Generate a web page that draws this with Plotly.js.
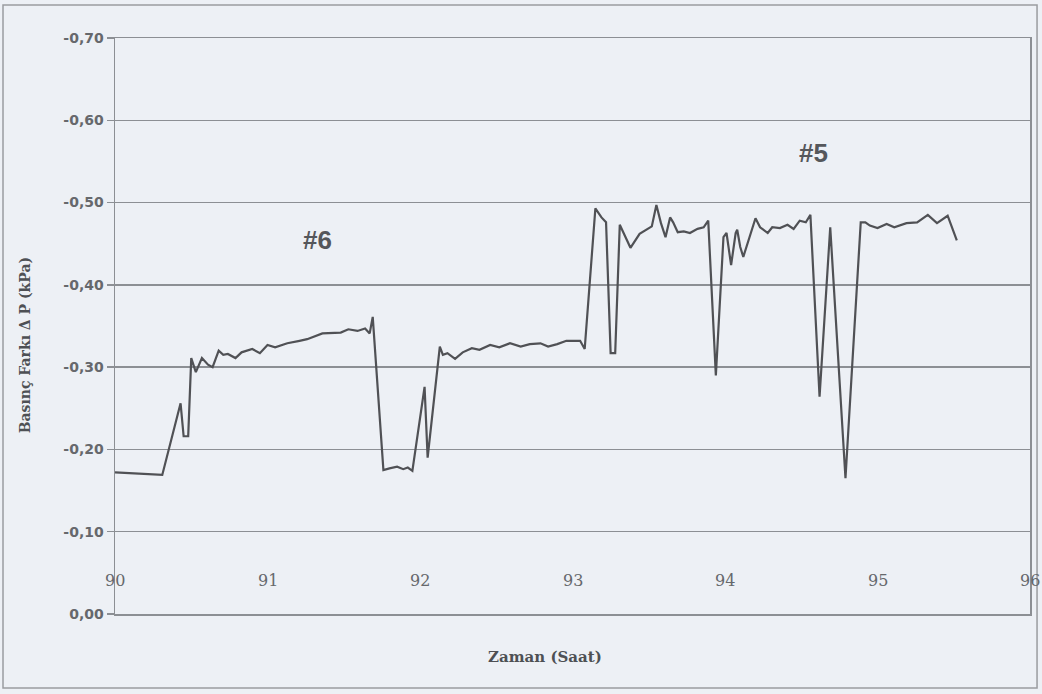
<!DOCTYPE html>
<html>
<head>
<meta charset="utf-8">
<script src="https://cdn.plot.ly/plotly-3.0.1.min.js"></script>
<style>
  html, body { margin: 0; padding: 0; background: #edf0f5; }
  #chart { width: 1042px; height: 694px; }
</style>
</head>
<body>
<div id="chart"></div>
<script>
// Time (hours) and pressure difference ΔP (kPa) readings
const hours = [
  90.00, 90.31, 90.43, 90.45, 90.48, 90.50, 90.53, 90.57, 90.61, 90.64,
  90.68, 90.71, 90.74, 90.79, 90.83, 90.90, 90.95, 91.00, 91.05, 91.13,
  91.21, 91.26, 91.36, 91.48, 91.53, 91.59, 91.64, 91.67, 91.69, 91.76,
  91.80, 91.85, 91.89, 91.92, 91.95, 92.03, 92.05, 92.13, 92.15, 92.18,
  92.23, 92.28, 92.34, 92.39, 92.46, 92.52, 92.59, 92.66, 92.72, 92.79,
  92.84, 92.90, 92.96, 93.05, 93.08, 93.15, 93.19, 93.22, 93.25, 93.28,
  93.31, 93.38, 93.44, 93.48, 93.52, 93.55, 93.58, 93.61, 93.64, 93.66,
  93.69, 93.73, 93.77, 93.82, 93.86, 93.89, 93.94, 93.99, 94.01, 94.04,
  94.07, 94.08, 94.10, 94.12, 94.15, 94.18, 94.20, 94.23, 94.28, 94.31,
  94.36, 94.41, 94.45, 94.49, 94.53, 94.56, 94.62, 94.69, 94.79, 94.89,
  94.92, 94.95, 95.00, 95.06, 95.11, 95.19, 95.26, 95.33, 95.39, 95.46,
  95.52
];
const deltaP = [
  -0.172, -0.169, -0.256, -0.216, -0.216, -0.311, -0.294, -0.311, -0.303, -0.300,
  -0.320, -0.315, -0.316, -0.311, -0.318, -0.322, -0.317, -0.327, -0.324, -0.329,
  -0.332, -0.334, -0.341, -0.342, -0.346, -0.344, -0.347, -0.341, -0.361, -0.175,
  -0.177, -0.179, -0.176, -0.178, -0.174, -0.276, -0.190, -0.325, -0.315, -0.317,
  -0.310, -0.318, -0.323, -0.321, -0.327, -0.324, -0.329, -0.325, -0.328, -0.329,
  -0.325, -0.328, -0.332, -0.332, -0.322, -0.493, -0.482, -0.476, -0.317, -0.317,
  -0.473, -0.445, -0.462, -0.466, -0.471, -0.497, -0.475, -0.458, -0.482, -0.476,
  -0.464, -0.465, -0.463, -0.468, -0.470, -0.478, -0.290, -0.458, -0.463, -0.424,
  -0.463, -0.467, -0.446, -0.434, -0.451, -0.470, -0.481, -0.470, -0.463, -0.470,
  -0.469, -0.473, -0.468, -0.478, -0.476, -0.485, -0.264, -0.470, -0.165, -0.476,
  -0.476, -0.472, -0.469, -0.474, -0.470, -0.475, -0.476, -0.485, -0.475, -0.484,
  -0.454
];

// Axis ticks
const xTickVals = [90, 91, 92, 93, 94, 95, 96];
const xTickText = ['90', '91', '92', '93', '94', '95', '96'];
const yTickVals = [-0.70, -0.60, -0.50, -0.40, -0.30, -0.20, -0.10, 0.00];
const yTickText = ['-0,70', '-0,60', '-0,50', '-0,40', '-0,30', '-0,20', '-0,10', '0,00'];

// Period labels
const seriesLabels = ['#6', '#5'];
const labelHours = [91.33, 94.58];
const labelValues = [-0.454, -0.560];

const gridColor = '#8c8f94';
const textGray = '#66686c';
// the hour labels sit inside the frame, just above the 0,00 line
const hourLabelLevel = -0.041;

const trace = {
  x: hours,
  y: deltaP,
  type: 'scatter',
  mode: 'lines',
  line: { color: '#505155', width: 2.2 },
  hoverinfo: 'x+y'
};

const annotations = seriesLabels.map((t, i) => ({
  x: labelHours[i], y: labelValues[i], xref: 'x', yref: 'y',
  text: t, showarrow: false,
  font: { family: 'Liberation Sans, Arial, sans-serif', size: 26, color: '#55575b', weight: 'bold' }
}));

xTickVals.forEach((v, i) => annotations.push({
  x: v, y: hourLabelLevel, xref: 'x', yref: 'y', xanchor: 'center', yanchor: 'middle',
  text: xTickText[i], showarrow: false,
  font: { family: 'DejaVu Serif, serif', size: 16, color: textGray }
}));

annotations.push({
  xref: 'paper', yref: 'paper', x: -0.098, y: 0.467, xanchor: 'center', yanchor: 'middle',
  text: 'Basınç Farkı Δ P (kPa)', textangle: -90, showarrow: false,
  font: { family: 'DejaVu Serif, serif', size: 14, color: '#4e5054', weight: 'bold' }
});
annotations.push({
  xref: 'paper', yref: 'paper', x: 0.47, y: -0.075, xanchor: 'center', yanchor: 'middle',
  text: 'Zaman (Saat)', showarrow: false,
  font: { family: 'DejaVu Serif, serif', size: 15, color: '#4e5054', weight: 'bold' }
});

const layout = {
  width: 1042,
  height: 694,
  margin: { l: 115, r: 12, t: 38, b: 80 },
  paper_bgcolor: '#edf0f5',
  plot_bgcolor: '#edf0f5',
  showlegend: false,
  xaxis: {
    range: [90, 96],
    tickvals: xTickVals,
    showticklabels: false,
    ticks: '',
    showgrid: false,
    zeroline: false,
    showline: true,
    mirror: true,
    linecolor: gridColor,
    linewidth: 1.5
  },
  yaxis: {
    range: [0, -0.70],
    tickvals: yTickVals,
    ticktext: yTickText,
    ticks: 'outside',
    ticklen: 7,
    tickcolor: gridColor,
    tickwidth: 1.5,
    showgrid: true,
    gridcolor: gridColor,
    gridwidth: 1.5,
    zeroline: false,
    showline: true,
    mirror: true,
    linecolor: gridColor,
    linewidth: 1.5,
    tickfont: { family: 'DejaVu Sans, sans-serif', size: 14, color: textGray, weight: 'bold' }
  },
  annotations: annotations,
  shapes: [{
    type: 'rect', xref: 'paper', yref: 'paper', layer: 'below',
    x0: -0.1224, x1: 1.0077, y0: -0.1285, y1: 1.0573,
    line: { color: '#9a9ca0', width: 1.5 }
  }]
};

Plotly.newPlot('chart', [trace], layout, { displayModeBar: false, staticPlot: true });
</script>
</body>
</html>
